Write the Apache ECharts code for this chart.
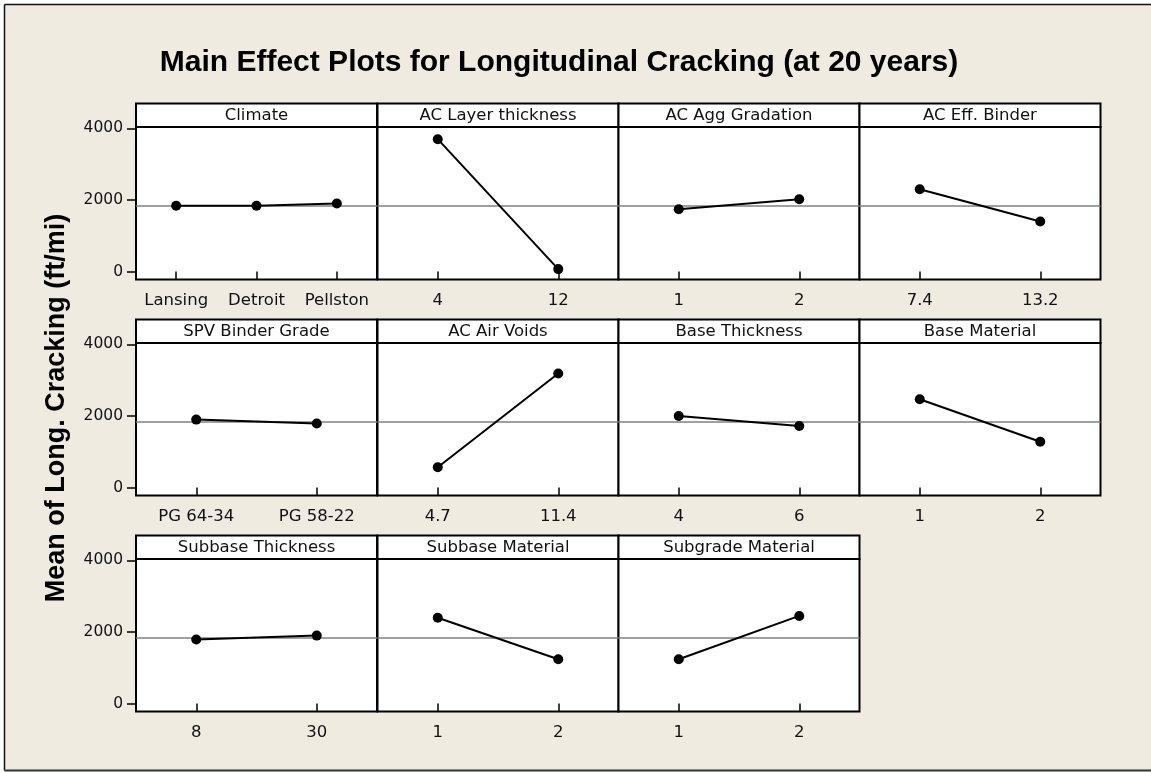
<!DOCTYPE html>
<html>
<head>
<meta charset="utf-8">
<script src="https://cdn.jsdelivr.net/npm/echarts@6/dist/echarts.min.js"></script>
<style>
html,body{margin:0;padding:0;background:#fff;}
#main{width:1151px;height:772px;}
</style>
</head>
<body>
<div id="main"></div>
<script>
// ---- Data ----
const chartTitle = 'Main Effect Plots for Longitudinal Cracking (at 20 years)';
const yAxisTitle = 'Mean of Long. Cracking (ft/mi)';
const panelNames = ['Climate', 'AC Layer thickness', 'AC Agg Gradation', 'AC Eff. Binder',
  'SPV Binder Grade', 'AC Air Voids', 'Base Thickness', 'Base Material',
  'Subbase Thickness', 'Subbase Material', 'Subgrade Material'];

const climateLevels = ['Lansing', 'Detroit', 'Pellston'];
const climateMeans = [1840, 1840, 1905];
const acLayerLevels = ['4', '12'];
const acLayerMeans = [3700, 70];
const aggLevels = ['1', '2'];
const aggMeans = [1740, 2020];
const binderLevels = ['7.4', '13.2'];
const binderMeans = [2300, 1400];
const spvLevels = ['PG 64-34', 'PG 58-22'];
const spvMeans = [1900, 1790];
const airVoidsLevels = ['4.7', '11.4'];
const airVoidsMeans = [570, 3190];
const baseThkLevels = ['4', '6'];
const baseThkMeans = [2000, 1720];
const baseMatLevels = ['1', '2'];
const baseMatMeans = [2470, 1280];
const subThkLevels = ['8', '30'];
const subThkMeans = [1790, 1900];
const subMatLevels = ['1', '2'];
const subMatMeans = [2400, 1240];
const subgradeLevels = ['1', '2'];
const subgradeMeans = [1240, 2450];

const grandMean = 1840;
const yTicks = [0, 2000, 4000];
const yMin = -220, yMax = 4040;

const panelLevels = [climateLevels, acLayerLevels, aggLevels, binderLevels, spvLevels,
  airVoidsLevels, baseThkLevels, baseMatLevels, subThkLevels, subMatLevels, subgradeLevels];
const panelMeans = [climateMeans, acLayerMeans, aggMeans, binderMeans, spvMeans,
  airVoidsMeans, baseThkMeans, baseMatMeans, subThkMeans, subMatMeans, subgradeMeans];

// ---- Layout ----
const colLeft = [136, 377.5, 618.5, 859.5];
const colW = 241;
const headerTop = [103.5, 319.5, 535.5];
const headerH = 23.5;
const plotH = 152.5;
const W = 1151, H = 772;
const bg = '#EFEBE1';
const FONT = '"DejaVu Sans", Verdana, sans-serif';

const grids = [], xAxes = [], yAxes = [], series = [];
const graphics = [];

graphics.push({type: 'rect', z: -10, shape: {x: 5, y: 5, width: W - 5, height: 766}, style: {fill: bg}});
graphics.push({type: 'line', z: -9, shape: {x1: 4.5, y1: 4.5, x2: W, y2: 4.5}, style: {stroke: '#111', lineWidth: 1.5}});
graphics.push({type: 'line', z: -9, shape: {x1: 4.5, y1: 4.5, x2: 4.5, y2: 770.5}, style: {stroke: '#111', lineWidth: 1.5}});
graphics.push({type: 'line', z: -9, shape: {x1: 4.5, y1: 770.5, x2: W, y2: 770.5}, style: {stroke: '#333', lineWidth: 2}});

panelNames.forEach((name, i) => {
  const r = Math.floor(i / 4), c = i % 4;
  const left = colLeft[c];
  const top = headerTop[r] + headerH;
  grids.push({
    left: left, top: top, width: colW, height: plotH,
    show: true, backgroundColor: '#fff', borderColor: '#000', borderWidth: 2,
    containLabel: false
  });
  xAxes.push({
    gridIndex: i, type: 'category', data: panelLevels[i], boundaryGap: true,
    axisLine: {show: false},
    axisTick: {show: true, alignWithLabel: true, inside: false, length: 8, lineStyle: {color: '#000', width: 1.5}},
    axisLabel: {show: true, color: '#111', fontFamily: FONT, fontSize: 16.5, margin: 13, interval: 0},
    splitLine: {show: false}
  });
  const first = c === 0;
  yAxes.push({
    gridIndex: i, type: 'value', min: yMin, max: yMax,
    axisLine: {show: false},
    axisTick: {show: first, length: 9, customValues: yTicks, lineStyle: {color: '#000', width: 1.5}},
    axisLabel: {show: first, customValues: yTicks, color: '#111', fontFamily: FONT, fontSize: 15.5, margin: 13,
      formatter: v => String(v)},
    splitLine: {show: false}
  });
  series.push({
    type: 'line', xAxisIndex: i, yAxisIndex: i, data: panelMeans[i],
    symbol: 'circle', symbolSize: 10,
    itemStyle: {color: '#000'}, lineStyle: {color: '#000', width: 2},
    silent: true, animation: false,
    markLine: {
      silent: true, symbol: 'none', animation: false,
      label: {show: false},
      lineStyle: {color: '#808080', width: 1.5, type: 'solid'},
      data: [{yAxis: grandMean}]
    },
    z: 5
  });
  graphics.push({
    type: 'rect', z: 10,
    shape: {x: left, y: headerTop[r], width: colW, height: headerH},
    style: {fill: '#fff', stroke: '#000', lineWidth: 2}
  });
  graphics.push({
    type: 'text', z: 11, x: left + colW / 2, y: headerTop[r] + headerH / 2 + 0.5,
    style: {text: name, fill: '#111', font: '16.5px ' + FONT, align: 'center', verticalAlign: 'middle'}
  });
});

graphics.push({
  type: 'text', z: 11, x: 559, y: 63,
  style: {text: chartTitle, fill: '#000', font: 'bold 30px "Liberation Sans", Arial, sans-serif', align: 'center', verticalAlign: 'middle'}
});
graphics.push({
  type: 'text', z: 11, x: 57, y: 408, rotation: Math.PI / 2,
  style: {text: yAxisTitle, fill: '#000', font: 'bold 27px "Liberation Sans", Arial, sans-serif', align: 'center', verticalAlign: 'middle'}
});

const chart = echarts.init(document.getElementById('main'), null, {renderer: 'canvas'});
chart.setOption({
  animation: false,
  backgroundColor: '#fff',
  grid: grids, xAxis: xAxes, yAxis: yAxes, series: series,
  graphic: graphics
});
</script>
</body>
</html>
